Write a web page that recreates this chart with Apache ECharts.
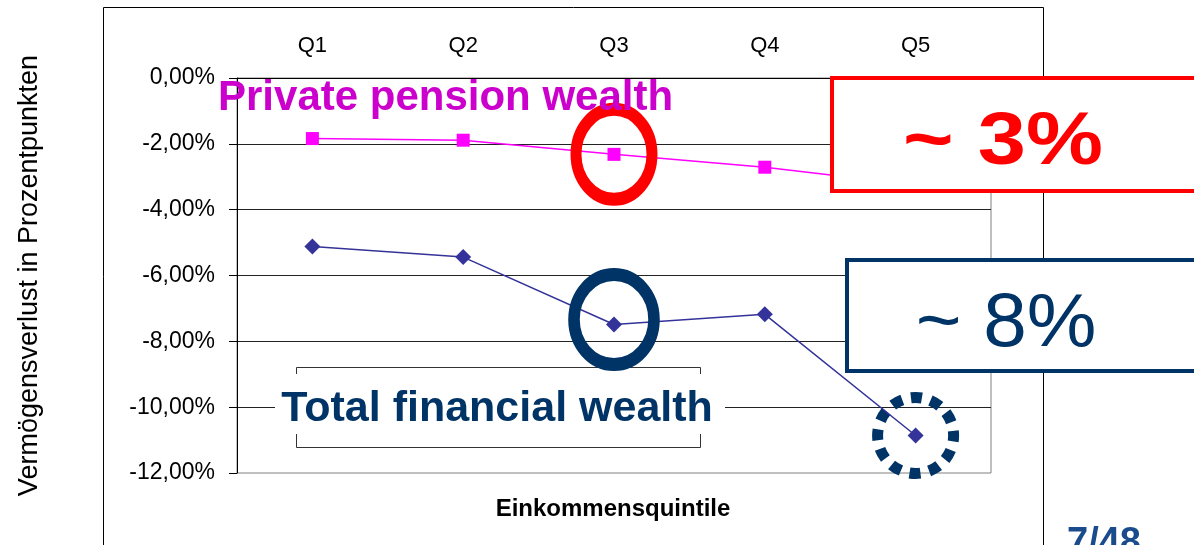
<!DOCTYPE html>
<html lang="de">
<head>
    <meta charset="UTF-8">
    <title>Vermögensverlust nach Einkommensquintil</title>
    <script src="https://cdn.jsdelivr.net/npm/echarts@6.0.0/dist/echarts.min.js"></script>
    <style>
        html, body { margin: 0; padding: 0; background: #fff; }
    </style>
</head>
<body>
    <div id="myChart" style="width: 1194px; height: 545px;"></div>

    <script>
        // data
        const categories = ['Q1', 'Q2', 'Q3', 'Q4', 'Q5'];
        const pensionLoss = [-1.84, -1.89, -2.32, -2.71, -3.25];   // private pension wealth
        const totalLoss = [-5.12, -5.44, -7.49, -7.18, -10.86];    // total financial wealth
        const yTicks = { min: -12, max: 0, step: 2 };

        const FONT = "'Liberation Sans', Arial, sans-serif";
        const NAVY = '#003366';

        var myChart = echarts.init(document.getElementById('myChart'));

        function pct(v) {
            return v.toFixed(2).replace('.', ',') + '%';
        }

        option = {
            animation: false,
            backgroundColor: '#fff',
            grid: {
                left: 237, top: 78, width: 754, height: 395,
                show: true, borderColor: '#808080', borderWidth: 1
            },
            xAxis: {
                type: 'category',
                data: categories,
                position: 'top',
                boundaryGap: true,
                axisLine: { lineStyle: { color: '#000', width: 1 } },
                axisTick: { inside: true, length: 6, lineStyle: { color: '#000' } },
                axisLabel: { color: '#000', fontSize: 22, fontFamily: FONT, margin: 21 },
                splitLine: { show: false }
            },
            yAxis: {
                type: 'value',
                min: yTicks.min,
                max: yTicks.max,
                interval: yTicks.step,
                name: 'Vermögensverlust in Prozentpunkten',
                nameLocation: 'middle',
                nameGap: 194,
                nameTextStyle: { color: '#000', fontSize: 27, fontFamily: FONT },
                axisLine: { show: true, lineStyle: { color: '#000', width: 1 } },
                axisTick: { show: true, length: 8, lineStyle: { color: '#000' } },
                axisLabel: { color: '#000', fontSize: 23, fontFamily: FONT, margin: 22, formatter: pct },
                splitLine: { show: true, showMinLine: false, lineStyle: { color: '#222', width: 1 } }
            },
            series: [
                {
                    name: 'Private pension wealth',
                    type: 'line',
                    data: pensionLoss,
                    symbol: 'rect',
                    symbolSize: 13,
                    itemStyle: { color: '#ff00ff' },
                    lineStyle: { color: '#ff00ff', width: 1.5 },
                    z: 3
                },
                {
                    name: 'Total financial wealth',
                    type: 'line',
                    data: totalLoss,
                    symbol: 'diamond',
                    symbolSize: 16,
                    itemStyle: { color: '#333399' },
                    lineStyle: { color: '#333399', width: 1.5 },
                    z: 3
                }
            ]
        };
        myChart.setOption(option);

        // annotations placed around the data points
        var pQ3 = myChart.convertToPixel({ seriesIndex: 0 }, [2, pensionLoss[2]]);
        var tQ3 = myChart.convertToPixel({ seriesIndex: 1 }, [2, totalLoss[2]]);
        var tQ5 = myChart.convertToPixel({ seriesIndex: 1 }, [4, totalLoss[4]]);

        myChart.setOption({
            graphic: [
                // slide frame round the chart
                { type: 'rect', z: 0, silent: true,
                  shape: { x: 103.5, y: 7.5, width: 940, height: 600 },
                  style: { fill: 'none', stroke: '#000', lineWidth: 1 } },
                { type: 'text', z: 5,
                  style: { text: 'Einkommensquintile', x: 613, y: 509, align: 'center', verticalAlign: 'middle',
                           font: 'bold 24px ' + FONT, fill: '#000' } },
                // legend box remains
                { type: 'rect', z: 4,
                  shape: { x: 296.5, y: 367.5, width: 404, height: 80 },
                  style: { fill: '#fff', stroke: '#333', lineWidth: 1 } },
                { type: 'rect', z: 5,
                  shape: { x: 275, y: 374, width: 450, height: 60 },
                  style: { fill: '#fff' } },
                { type: 'text', z: 6,
                  style: { text: 'Total financial wealth', x: 497, y: 409, align: 'center', verticalAlign: 'middle',
                           font: 'bold 43px ' + FONT, fill: NAVY } },
                // rings
                { type: 'circle', z: 6, x: pQ3[0], y: pQ3[1], scaleX: 38 / 45,
                  shape: { cx: 0, cy: 0, r: 45 },
                  style: { fill: 'none', stroke: '#ff0000', lineWidth: 13, strokeNoScale: true } },
                { type: 'circle', z: 6, x: tQ3[0], y: tQ3[1] - 5, scaleX: 40 / 45,
                  shape: { cx: 0, cy: 0, r: 45 },
                  style: { fill: 'none', stroke: NAVY, lineWidth: 13, strokeNoScale: true } },
                { type: 'circle', z: 1, x: tQ5[0], y: tQ5[1],
                  shape: { cx: 0, cy: 0, r: 38 },
                  style: { fill: 'none', stroke: NAVY, lineWidth: 11, lineDash: [11, 8.9], lineDashOffset: 5 } },
                { type: 'text', z: 7,
                  style: { text: 'Private pension wealth', x: 218, y: 98, align: 'left', verticalAlign: 'middle',
                           font: 'bold 42px ' + FONT, fill: '#cc00cc' } },
                // callout boxes
                { type: 'rect', z: 8,
                  shape: { x: 832, y: 78, width: 364, height: 113 },
                  style: { fill: '#fff', stroke: '#ff0000', lineWidth: 4 } },
                { type: 'text', z: 9, x: 1003, y: 144, scaleX: 1.17,
                  style: { text: '~ 3%', x: 0, y: 0, align: 'center', verticalAlign: 'middle',
                           font: 'bold 74px ' + FONT, fill: '#ff0000' } },
                { type: 'rect', z: 8,
                  shape: { x: 847, y: 260, width: 360, height: 111 },
                  style: { fill: '#fff', stroke: NAVY, lineWidth: 4 } },
                { type: 'text', z: 9, x: 1006, y: 325, scaleX: 1.03,
                  style: { text: '~ 8%', x: 0, y: 0, align: 'center', verticalAlign: 'middle',
                           font: '76px ' + FONT, fill: NAVY } },
                { type: 'text', z: 9,
                  style: { text: '7/48', x: 1067, y: 525, align: 'left', verticalAlign: 'top',
                           font: 'bold 38px ' + FONT, fill: '#1a4b8c' } }
            ]
        });

        window.addEventListener('resize', function () {
            myChart.resize();
        });
    </script>
</body>
</html>
